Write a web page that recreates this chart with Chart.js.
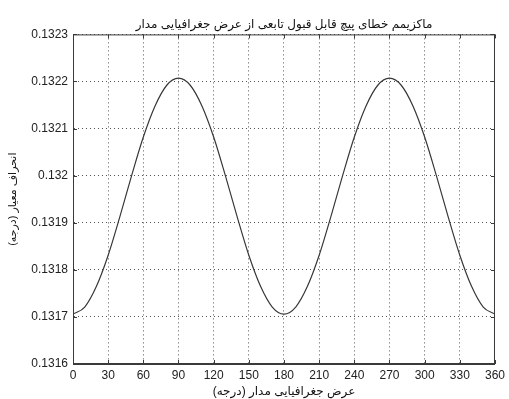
<!DOCTYPE html>
<html>
<head>
<meta charset="utf-8">
<script src="https://cdn.jsdelivr.net/npm/chart.js"></script>
<style>
  html, body { margin: 0; padding: 0; background: #fff; }
  #wrap { width: 509px; height: 399px; }
</style>
</head>
<body>
<div id="wrap"><canvas id="c" width="509" height="399"></canvas></div>
<script>
// latitude of orbit (deg) and max error
const latitudes = [0, 10, 20, 30, 40, 50, 60, 70, 80, 90,
    100, 110, 120, 130, 140, 150, 160, 170, 180,
    190, 200, 210, 220, 230, 240, 250, 260, 270,
    280, 290, 300, 310, 320, 330, 340, 350, 360];
const maxError = [0.131706, 0.131721, 0.131765, 0.131831, 0.131913, 0.132000, 0.132082, 0.132148, 0.132192, 0.132207,
    0.132192, 0.132148, 0.132082, 0.132000, 0.131913, 0.131831, 0.131765, 0.131721, 0.131706,
    0.131721, 0.131765, 0.131831, 0.131913, 0.132000, 0.132082, 0.132148, 0.132192, 0.132207,
    0.132192, 0.132148, 0.132082, 0.132000, 0.131913, 0.131831, 0.131765, 0.131721, 0.131706];

const xTicks = [0, 30, 60, 90, 120, 150, 180, 210, 240, 270, 300, 330, 360];
const yTicks = [0.1316, 0.1317, 0.1318, 0.1319, 0.132, 0.1321, 0.1322, 0.1323];

const titleText = 'ماکزیمم خطای پیچ قابل قبول تابعی از عرض جغرافیایی مدار';
const xTitle = 'عرض جغرافیایی مدار (درجه)';
const yTitle = 'انحراف معیار (درجه)';

const FONT = 'Liberation Sans, Arial, DejaVu Sans, sans-serif';
const AXIS = '#3a3a3a';

// matlab style frame: full box + inward ticks on every side
const matlabBox = {
    id: 'matlabBox',
    afterDraw(chart) {
        const { ctx, chartArea: a, scales } = chart;
        ctx.save();
        ctx.strokeStyle = AXIS;
        ctx.lineWidth = 1;
        ctx.strokeRect(a.left + 0.5, a.top + 0.5, a.right - a.left - 1, a.bottom - a.top - 1);
        ctx.beginPath();
        xTicks.forEach(v => {
            const x = Math.round(scales.x.getPixelForValue(v)) + 0.5;
            ctx.moveTo(x, a.bottom); ctx.lineTo(x, a.bottom - 4);
            ctx.moveTo(x, a.top); ctx.lineTo(x, a.top + 4);
        });
        yTicks.forEach(v => {
            const y = Math.round(scales.y.getPixelForValue(v)) + 0.5;
            ctx.moveTo(a.left, y); ctx.lineTo(a.left + 4, y);
            ctx.moveTo(a.right, y); ctx.lineTo(a.right - 4, y);
        });
        ctx.stroke();
        ctx.restore();
    }
};

new Chart(document.getElementById('c'), {
    type: 'line',
    data: {
        labels: latitudes,
        datasets: [{
            data: latitudes.map((x, i) => ({ x: x, y: maxError[i] })),
            borderColor: '#383838',
            borderWidth: 1.2,
            pointRadius: 0,
            cubicInterpolationMode: 'monotone',
            fill: false
        }]
    },
    options: {
        responsive: false,
        animation: false,
        layout: { padding: { top: 0, right: 10, bottom: 0, left: 0 } },
        plugins: {
            legend: { display: false },
            tooltip: { enabled: false },
            title: {
                display: true,
                text: titleText,
                fullSize: false,
                color: '#111',
                font: { family: FONT, size: 12, weight: 'normal' },
                padding: { top: 17, bottom: 3 }
            }
        },
        scales: {
            x: {
                type: 'linear',
                min: 0, max: 360,
                afterBuildTicks: s => { s.ticks = xTicks.map(v => ({ value: v })); },
                afterFit: s => { s.height = 35; },
                ticks: { color: '#222', font: { family: FONT, size: 12 }, padding: 4, maxRotation: 0 },
                grid: { color: '#555', drawTicks: false },
                border: { color: AXIS, dash: [1, 3] },
                title: {
                    display: true, text: xTitle, color: '#111',
                    font: { family: FONT, size: 12 }, padding: { top: 0, bottom: 0 }
                }
            },
            y: {
                min: 0.1316, max: 0.1323,
                afterBuildTicks: s => { s.ticks = yTicks.map(v => ({ value: v })); },
                afterFit: s => { s.width = 73; },
                ticks: {
                    color: '#222', font: { family: FONT, size: 12 }, padding: 5,
                    callback: v => String(+v.toFixed(4))
                },
                grid: { color: '#555', drawTicks: false },
                border: { color: AXIS, dash: [1, 3] },
                title: {
                    display: true, text: yTitle, color: '#111',
                    font: { family: FONT, size: 11 }, padding: { top: 6, bottom: 0 }
                }
            }
        }
    },
    plugins: [matlabBox]
});
</script>
</body>
</html>
